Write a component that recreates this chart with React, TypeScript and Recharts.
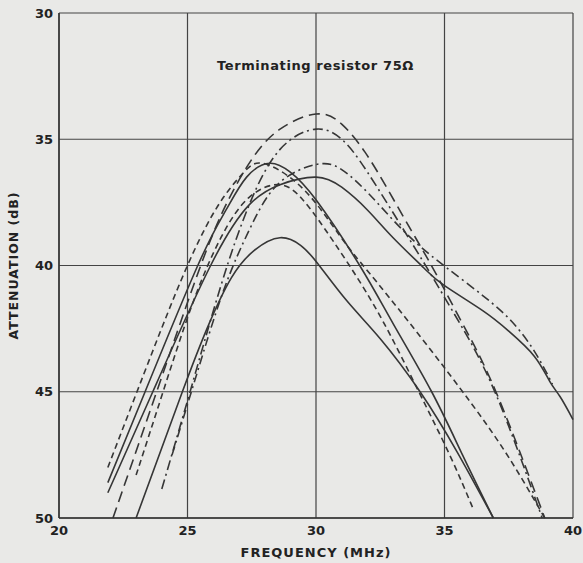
import { LineChart, CartesianGrid, XAxis, YAxis, Line, Label } from "recharts";

type Pt = { f: number; a: number };

const freqTicks = [20, 25, 30, 35, 40];
const attenTicks = [30, 35, 40, 45, 50];

// long dash, highest peak
const curveA: Pt[] = [
  { f: 22.1, a: 50 }, { f: 23.8, a: 45 }, { f: 25.3, a: 40.6 }, { f: 26.4, a: 37.8 },
  { f: 27.5, a: 35.8 }, { f: 28.6, a: 34.6 }, { f: 30, a: 34.0 }, { f: 31, a: 34.4 },
  { f: 31.9, a: 35.5 }, { f: 32.8, a: 37.0 }, { f: 33.7, a: 38.6 }, { f: 34.6, a: 40.2 },
  { f: 35.7, a: 42.3 }, { f: 37, a: 45 }, { f: 38.9, a: 50 },
];

// dash-dot, second peak
const curveB: Pt[] = [
  { f: 24.0, a: 48.85 }, { f: 25.1, a: 45 }, { f: 26.3, a: 40.8 }, { f: 27.4, a: 37.6 },
  { f: 28.6, a: 35.4 }, { f: 30, a: 34.6 }, { f: 31, a: 35.0 }, { f: 32, a: 36.3 },
  { f: 33.6, a: 38.9 }, { f: 34.5, a: 40.4 }, { f: 35.6, a: 42.3 }, { f: 37, a: 45.1 },
  { f: 38.8, a: 50 },
];

// dash-dot, peak 36 at 30 MHz, runs into the long solid curve
const curveE: Pt[] = [
  { f: 24.4, a: 47.5 }, { f: 25.3, a: 44.5 }, { f: 26.4, a: 41 }, { f: 27.4, a: 38.6 },
  { f: 28.5, a: 36.8 }, { f: 30, a: 36.0 }, { f: 31, a: 36.2 }, { f: 32, a: 37.1 },
  { f: 33, a: 38.2 }, { f: 34, a: 39.2 }, { f: 35.1, a: 40.1 }, { f: 36.5, a: 41.2 },
  { f: 37.6, a: 42.2 }, { f: 38.5, a: 43.4 }, { f: 39.2, a: 44.7 },
];

// solid, peak 36.5 at 30 MHz, long tail to 40 MHz
const curveD: Pt[] = [
  { f: 21.9, a: 49.0 }, { f: 23.65, a: 45 }, { f: 25.9, a: 40 }, { f: 27.4, a: 37.6 },
  { f: 28.6, a: 36.8 }, { f: 30, a: 36.5 }, { f: 31, a: 36.9 }, { f: 32, a: 37.8 },
  { f: 33, a: 38.9 }, { f: 34.2, a: 40.1 }, { f: 35, a: 40.8 }, { f: 36.5, a: 41.8 },
  { f: 37.5, a: 42.6 }, { f: 38.5, a: 43.6 }, { f: 39.1, a: 44.6 }, { f: 39.5, a: 45.2 },
  { f: 40, a: 46.1 },
];

// solid, peak 36 at 28 MHz
const curveC: Pt[] = [
  { f: 21.9, a: 48.6 }, { f: 23.35, a: 45 }, { f: 25.4, a: 40 }, { f: 26.5, a: 37.8 },
  { f: 27.3, a: 36.5 }, { f: 28.2, a: 35.95 }, { f: 29, a: 36.3 }, { f: 30, a: 37.4 },
  { f: 31.7, a: 40 }, { f: 33, a: 42.3 }, { f: 34.5, a: 45 }, { f: 35.7, a: 47.5 },
  { f: 36.9, a: 50 },
];

// short dash, peak 36 near 28 MHz
const curveF: Pt[] = [
  { f: 21.9, a: 48.0 }, { f: 23.3, a: 44.3 }, { f: 24.5, a: 41.2 }, { f: 25.5, a: 38.9 },
  { f: 26.4, a: 37.3 }, { f: 27.2, a: 36.3 }, { f: 27.9, a: 35.95 }, { f: 29.1, a: 36.6 },
  { f: 30.2, a: 37.8 }, { f: 31.2, a: 39.2 }, { f: 32.4, a: 40.7 }, { f: 34.2, a: 43.0 },
  { f: 36.0, a: 45.4 }, { f: 37.5, a: 47.6 }, { f: 38.9, a: 50 },
];

// short dash, peak 36.8 near 28.6 MHz
const curveH: Pt[] = [
  { f: 23.0, a: 48.3 }, { f: 24.05, a: 45 }, { f: 25.2, a: 41.5 }, { f: 26.3, a: 38.9 },
  { f: 27.4, a: 37.3 }, { f: 28.6, a: 36.8 }, { f: 29.4, a: 37.3 }, { f: 30.1, a: 38.2 },
  { f: 31.3, a: 40 }, { f: 32.6, a: 42.2 }, { f: 34.0, a: 45 }, { f: 35.2, a: 47.5 },
  { f: 36.1, a: 49.6 },
];

// solid, lowest peak 38.9
const curveG: Pt[] = [
  { f: 23.0, a: 50 }, { f: 24.8, a: 45 }, { f: 25.8, a: 42.4 }, { f: 26.7, a: 40.5 },
  { f: 27.6, a: 39.4 }, { f: 28.6, a: 38.9 }, { f: 29.4, a: 39.2 }, { f: 30.05, a: 39.9 },
  { f: 31.2, a: 41.4 }, { f: 32.5, a: 42.9 }, { f: 34.05, a: 45 }, { f: 35.5, a: 47.4 },
  { f: 36.9, a: 50 },
];

const ink = "#363636";
const font = "'DejaVu Sans', sans-serif";

const series: { key: string; data: Pt[]; dash?: string }[] = [
  { key: "A", data: curveA, dash: "11 6" },
  { key: "B", data: curveB, dash: "10 4 2 4" },
  { key: "E", data: curveE, dash: "9 4 2 4" },
  { key: "D", data: curveD },
  { key: "C", data: curveC },
  { key: "F", data: curveF, dash: "6 4" },
  { key: "H", data: curveH, dash: "6 4" },
  { key: "G", data: curveG },
];

export default function App() {
  return (
    <div style={{ position: "relative", width: 583, height: 563, background: "#e9e9e7" }}>
      <style>{"body{margin:0}"}</style>
      <LineChart
        width={583}
        height={563}
        margin={{ top: 13, right: 10, bottom: 0, left: 0 }}
        style={{ fontFamily: font }}
      >
        <CartesianGrid stroke="#444" strokeWidth={1.2} />
        <XAxis
          type="number"
          dataKey="f"
          domain={[20, 40]}
          ticks={freqTicks}
          height={45}
          tickSize={0}
          tickMargin={8}
          axisLine={{ stroke: "#333", strokeWidth: 1.5 }}
          tick={{ fill: "#222", fontSize: 13, fontWeight: 700 }}
        >
          <Label
            value="FREQUENCY (MHz)"
            position="insideBottom"
            offset={6}
            style={{ fill: "#222", fontSize: 13, fontWeight: 700, letterSpacing: 1 }}
          />
        </XAxis>
        <YAxis
          type="number"
          dataKey="a"
          domain={[30, 50]}
          reversed
          ticks={attenTicks}
          width={59}
          tickSize={0}
          tickMargin={6}
          axisLine={{ stroke: "#333", strokeWidth: 1.5 }}
          tick={{ fill: "#222", fontSize: 13, fontWeight: 700 }}
        >
          <Label
            value="ATTENUATION (dB)"
            angle={-90}
            position="insideLeft"
            offset={14}
            style={{ fill: "#222", fontSize: 12.5, fontWeight: 700, letterSpacing: 1, textAnchor: "middle" }}
          />
        </YAxis>
        {series.map((s) => (
          <Line
            key={s.key}
            data={s.data}
            dataKey="a"
            type="natural"
            stroke={ink}
            strokeWidth={1.6}
            strokeDasharray={s.dash}
            dot={false}
            activeDot={false}
            isAnimationActive={false}
          />
        ))}
      </LineChart>
      <div
        style={{
          position: "absolute",
          left: 217,
          top: 58,
          fontFamily: font,
          fontSize: 13,
          fontWeight: 700,
          letterSpacing: 0.6,
          color: "#222",
        }}
      >
        Terminating resistor 75Ω
      </div>
    </div>
  );
}
